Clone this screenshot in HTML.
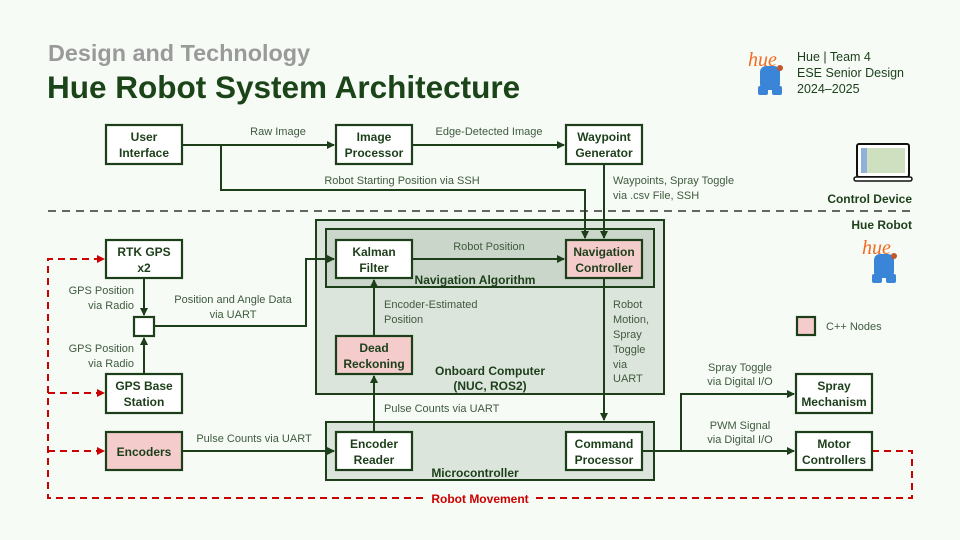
<!DOCTYPE html>
<html><head><meta charset="utf-8"><style>
html,body{margin:0;padding:0;background:#f6fbf6;}
svg{display:block;font-family:"Liberation Sans",sans-serif;}
.b{fill:#fff;stroke:#1c3f1a;stroke-width:2.2}
.p{fill:#f4cccc;stroke:#1c3f1a;stroke-width:2.2}
.n{font-weight:bold;font-size:12px;fill:#1c3f1a;text-anchor:middle}
.l{font-size:11px;fill:#3f5a3d}
.w{stroke:#1c3f1a;stroke-width:2;fill:none}
.r{stroke:#cc0000;stroke-width:2;fill:none;stroke-dasharray:7,5}
</style></head><body>
<svg width="960" height="540" viewBox="0 0 960 540">
<defs>
<marker id="a" markerWidth="8" markerHeight="8" refX="7" refY="4" orient="auto" markerUnits="userSpaceOnUse"><path d="M0,0 L8,4 L0,8z" fill="#1c3f1a"/></marker>
<marker id="ar" markerWidth="8" markerHeight="8" refX="7" refY="4" orient="auto" markerUnits="userSpaceOnUse"><path d="M0,0 L8,4 L0,8z" fill="#cc0000"/></marker>
</defs>
<rect width="960" height="540" fill="#f6fbf6"/>
<text x="48" y="61" font-size="23.4" font-weight="bold" fill="#9a9a9a">Design and Technology</text>
<text x="47" y="98" font-size="31.5" font-weight="bold" fill="#1b4418">Hue Robot System Architecture</text>
<text x="797" y="61" font-size="12.5" fill="#1c3f1a">Hue | Team 4</text>
<text x="797" y="77" font-size="12.5" fill="#1c3f1a">ESE Senior Design</text>
<text x="797" y="93" font-size="12.5" fill="#1c3f1a">2024–2025</text>
<!-- mascots -->
<g transform="translate(748,48)">
<text x="0" y="18" font-size="20" font-style="italic" fill="#f26b21" font-family="Liberation Serif,serif">hue</text>
<rect x="12" y="18" width="20" height="24" rx="6" fill="#3a85d8"/>
<rect x="10" y="38" width="10" height="9" rx="2" fill="#3a85d8"/><rect x="24" y="38" width="10" height="9" rx="2" fill="#3a85d8"/>
<circle cx="32" cy="20" r="3" fill="#c0562a"/>
</g>
<g transform="translate(862,236)">
<text x="0" y="18" font-size="20" font-style="italic" fill="#f26b21" font-family="Liberation Serif,serif">hue</text>
<rect x="12" y="18" width="20" height="24" rx="6" fill="#3a85d8"/>
<rect x="10" y="38" width="10" height="9" rx="2" fill="#3a85d8"/><rect x="24" y="38" width="10" height="9" rx="2" fill="#3a85d8"/>
<circle cx="32" cy="20" r="3" fill="#c0562a"/>
</g>
<!-- laptop -->
<rect x="857" y="144" width="52" height="33" rx="2" fill="#fff" stroke="#111" stroke-width="2"/>
<rect x="861" y="148" width="44" height="25" fill="#cfe0c0"/>
<rect x="861" y="148" width="6" height="25" fill="#8fb0d8"/>
<rect x="854" y="177" width="58" height="4" rx="2" fill="#fff" stroke="#111" stroke-width="1.5"/>
<text x="912" y="203" font-size="12" font-weight="bold" fill="#1c3f1a" text-anchor="end">Control Device</text>
<line x1="48" y1="211" x2="912" y2="211" stroke="#666" stroke-width="2" stroke-dasharray="8,6"/>
<text x="912" y="229" font-size="12" font-weight="bold" fill="#1c3f1a" text-anchor="end">Hue Robot</text>
<!-- group boxes -->
<rect x="316" y="220" width="348" height="174" fill="#dce5dc" stroke="#1c3f1a" stroke-width="2"/>
<rect x="326" y="229" width="328" height="58" fill="#c9d6c9" stroke="#1c3f1a" stroke-width="2"/>
<rect x="326" y="422" width="328" height="58" fill="#dce5dc" stroke="#1c3f1a" stroke-width="2"/>
<text x="475" y="284" class="n">Navigation Algorithm</text>
<text x="490" y="375" class="n">Onboard Computer</text>
<text x="490" y="390" class="n">(NUC, ROS2)</text>
<text x="475" y="477" class="n">Microcontroller</text>
<!-- connectors -->
<path class="w" d="M182,145 H334" marker-end="url(#a)"/>
<path class="w" d="M412,145 H564" marker-end="url(#a)"/>
<path class="w" d="M221,145 V190 H585 V238" marker-end="url(#a)"/>
<path class="w" d="M604,164 V238" marker-end="url(#a)"/>
<path class="w" d="M412,259 H564" marker-end="url(#a)"/>
<path class="w" d="M374,336 V280" marker-end="url(#a)"/>
<path class="w" d="M374,432 V376" marker-end="url(#a)"/>
<path class="w" d="M604,278 V420" marker-end="url(#a)"/>
<path class="w" d="M642,451 H794" marker-end="url(#a)"/>
<path class="w" d="M681,451 V394 H794" marker-end="url(#a)"/>
<path class="w" d="M182,451 H334" marker-end="url(#a)"/>
<path class="w" d="M144,278 V315" marker-end="url(#a)"/>
<path class="w" d="M144,374 V338" marker-end="url(#a)"/>
<path class="w" d="M154,326 H306 V259 H334" marker-end="url(#a)"/>
<!-- red loop -->
<path class="r" d="M872,451 H912 V498 H48 V259 H104" marker-end="url(#ar)"/>
<path class="r" d="M48,393 H104" marker-end="url(#ar)"/>
<path class="r" d="M48,451 H104" marker-end="url(#ar)"/>
<rect x="425" y="490" width="110" height="16" fill="#f6fbf6"/>
<text x="480" y="503" font-size="12" font-weight="bold" fill="#cc0000" text-anchor="middle">Robot Movement</text>
<!-- labels -->
<g class="l">
<text x="278" y="135" text-anchor="middle">Raw Image</text>
<text x="489" y="135" text-anchor="middle">Edge-Detected Image</text>
<text x="402" y="184" text-anchor="middle">Robot Starting Position via SSH</text>
<text x="613" y="184">Waypoints, Spray Toggle</text>
<text x="613" y="199">via .csv File, SSH</text>
<text x="489" y="250" text-anchor="middle">Robot Position</text>
<text x="384" y="308">Encoder-Estimated</text>
<text x="384" y="323">Position</text>
<text x="613" y="308">Robot</text>
<text x="613" y="323">Motion,</text>
<text x="613" y="338">Spray</text>
<text x="613" y="353">Toggle</text>
<text x="613" y="368">via</text>
<text x="613" y="382">UART</text>
<text x="384" y="412">Pulse Counts via UART</text>
<text x="254" y="442" text-anchor="middle">Pulse Counts via UART</text>
<text x="233" y="303" text-anchor="middle">Position and Angle Data</text>
<text x="233" y="318" text-anchor="middle">via UART</text>
<text x="134" y="294" text-anchor="end">GPS Position</text>
<text x="134" y="309" text-anchor="end">via Radio</text>
<text x="134" y="352" text-anchor="end">GPS Position</text>
<text x="134" y="367" text-anchor="end">via Radio</text>
<text x="740" y="371" text-anchor="middle">Spray Toggle</text>
<text x="740" y="385" text-anchor="middle">via Digital I/O</text>
<text x="740" y="429" text-anchor="middle">PWM Signal</text>
<text x="740" y="443" text-anchor="middle">via Digital I/O</text>
<text x="826" y="330">C++ Nodes</text>
</g>
<!-- nodes -->
<rect x="797" y="317" width="18" height="18" class="p"/>
<rect x="134" y="317" width="20" height="19" class="b"/>
<rect x="106" y="125" width="76" height="39" class="b"/><text x="144" y="141" class="n">User</text><text x="144" y="157" class="n">Interface</text>
<rect x="336" y="125" width="76" height="39" class="b"/><text x="374" y="141" class="n">Image</text><text x="374" y="157" class="n">Processor</text>
<rect x="566" y="125" width="76" height="39" class="b"/><text x="604" y="141" class="n">Waypoint</text><text x="604" y="157" class="n">Generator</text>
<rect x="336" y="240" width="76" height="38" class="b"/><text x="374" y="256" class="n">Kalman</text><text x="374" y="272" class="n">Filter</text>
<rect x="566" y="240" width="76" height="38" class="p"/><text x="604" y="256" class="n">Navigation</text><text x="604" y="272" class="n">Controller</text>
<rect x="336" y="336" width="76" height="38" class="p"/><text x="374" y="352" class="n">Dead</text><text x="374" y="368" class="n">Reckoning</text>
<rect x="336" y="432" width="76" height="38" class="b"/><text x="374" y="448" class="n">Encoder</text><text x="374" y="464" class="n">Reader</text>
<rect x="566" y="432" width="76" height="38" class="b"/><text x="604" y="448" class="n">Command</text><text x="604" y="464" class="n">Processor</text>
<rect x="106" y="240" width="76" height="38" class="b"/><text x="144" y="256" class="n">RTK GPS</text><text x="144" y="272" class="n">x2</text>
<rect x="106" y="374" width="76" height="39" class="b"/><text x="144" y="390" class="n">GPS Base</text><text x="144" y="406" class="n">Station</text>
<rect x="106" y="432" width="76" height="38" class="p"/><text x="144" y="456" class="n">Encoders</text>
<rect x="796" y="374" width="76" height="39" class="b"/><text x="834" y="390" class="n">Spray</text><text x="834" y="406" class="n">Mechanism</text>
<rect x="796" y="432" width="76" height="38" class="b"/><text x="834" y="448" class="n">Motor</text><text x="834" y="464" class="n">Controllers</text>
</svg>
</body></html>
